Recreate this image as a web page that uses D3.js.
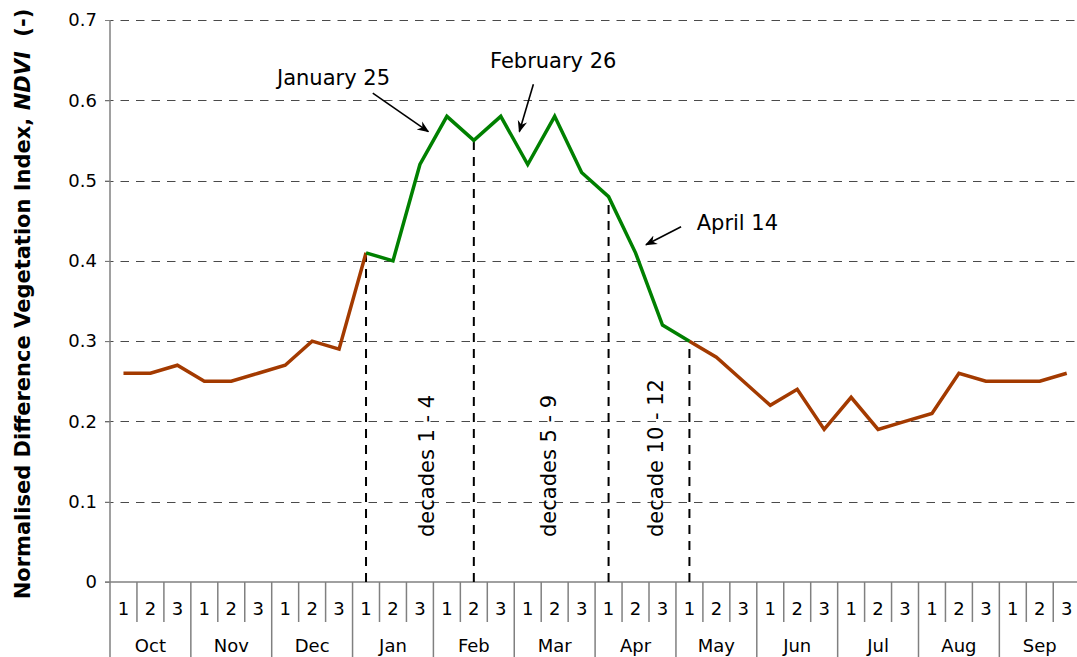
<!DOCTYPE html>
<html lang="en">
<head>
<meta charset="UTF-8">
<title>NDVI by decade</title>
<script src="https://d3js.org/d3.v7.min.js"></script>
<style>
  body { margin: 0; background: #fff; }
  text { font-family: "DejaVu Sans", Verdana, sans-serif; fill: #000; }
</style>
</head>
<body>
<script>
// data
const months = ["Oct", "Nov", "Dec", "Jan", "Feb", "Mar", "Apr", "May", "Jun", "Jul", "Aug", "Sep"];
const decadeLabels = ["1", "2", "3"];
const ndvi = [0.26, 0.26, 0.27, 0.25, 0.25, 0.26, 0.27, 0.30, 0.29,
              0.41, 0.40, 0.52, 0.58, 0.55, 0.58, 0.52, 0.58, 0.51,
              0.48, 0.41, 0.32, 0.30, 0.28, 0.25, 0.22, 0.24, 0.19,
              0.23, 0.19, 0.20, 0.21, 0.26, 0.25, 0.25, 0.25, 0.26];
const greenFrom = 9, greenTo = 21;          // season highlighted in green
const markerDecades = [9, 13, 18, 21];      // dashed drop lines
const periods = [
  { label: "decades 1 - 4", from: 9, to: 13 },
  { label: "decades 5 - 9", from: 13, to: 18 },
  { label: "decade 10 - 12", from: 18, to: 21 }
];
// annotation arrows in (decade position, ndvi) units
const notes = [
  { text: "January 25", anchor: "end", tx: 10.39, ty: 0.619, x1: 9.75, y1: 0.609, x2: 11.81, y2: 0.561 },
  { text: "February 26", anchor: "start", tx: 14.10, ty: 0.640, x1: 15.71, y1: 0.620, x2: 15.19, y2: 0.561 },
  { text: "April 14", anchor: "start", tx: 21.77, ty: 0.4385, x1: 21.19, y1: 0.4425, x2: 19.89, y2: 0.420 }
];
const yTicks = [0, 0.1, 0.2, 0.3, 0.4, 0.5, 0.6, 0.7];

const W = 1077, H = 657;
const mLeft = 110, mTop = 20, mBottom = 582;
const step = 26.95;

const svg = d3.select("body").append("svg")
  .attr("width", W).attr("height", H);

const xPos = d3.scaleLinear().domain([0, 36]).range([mLeft, mLeft + 36 * step]);
const x = d3.scaleBand().domain(d3.range(36)).range([mLeft, mLeft + 36 * step]);
const y = d3.scaleLinear().domain([0, 0.7]).range([mBottom, mTop]);
const cx = i => x(i) + x.bandwidth() / 2;

// gridlines
svg.append("g").selectAll("line")
  .data(yTicks.filter(d => d > 0))
  .enter().append("line")
  .attr("x1", mLeft - 5).attr("x2", W)
  .attr("y1", d => Math.round(y(d)) + 0.5).attr("y2", d => Math.round(y(d)) + 0.5)
  .attr("stroke", "#4a4a4a").attr("stroke-width", 1)
  .attr("stroke-dasharray", "8.5,7");

// y axis
const yAxis = d3.axisLeft(y).tickValues(yTicks).tickSize(5).tickPadding(8)
  .tickFormat(d => d === 0 ? "0" : d.toFixed(1));
const gy = svg.append("g").attr("transform", `translate(${mLeft},0)`).call(yAxis);
gy.select(".domain").remove();
gy.selectAll(".tick line").attr("stroke", "#808080");
gy.selectAll(".tick text").style("font-size", "18px").attr("font-family", null);

svg.append("line")
  .attr("x1", mLeft).attr("x2", mLeft).attr("y1", mTop).attr("y2", H)
  .attr("stroke", "#808080").attr("stroke-width", 1.5);

// x axis line
svg.append("line")
  .attr("x1", mLeft - 5).attr("x2", W).attr("y1", mBottom).attr("y2", mBottom)
  .attr("stroke", "#808080").attr("stroke-width", 1.5);

// decade separators and month separators
svg.append("g").selectAll("line")
  .data(d3.range(1, 37))
  .enter().append("line")
  .attr("x1", d => xPos(d)).attr("x2", d => xPos(d))
  .attr("y1", mBottom).attr("y2", d => d % 3 === 0 ? H : 622)
  .attr("stroke", "#808080").attr("stroke-width", 1.5);

svg.append("g").selectAll("text")
  .data(d3.range(36))
  .enter().append("text")
  .attr("x", d => cx(d)).attr("y", 615)
  .attr("text-anchor", "middle")
  .style("font-size", "18px")
  .text(d => decadeLabels[d % 3]);

svg.append("g").selectAll("text")
  .data(months)
  .enter().append("text")
  .attr("x", (d, i) => xPos(i * 3 + 1.5)).attr("y", 652)
  .attr("text-anchor", "middle")
  .style("font-size", "18px")
  .text(d => d);

// dashed drop lines
svg.append("g").selectAll("line")
  .data(markerDecades)
  .enter().append("line")
  .attr("x1", d => cx(d)).attr("x2", d => cx(d))
  .attr("y1", mBottom).attr("y2", d => y(ndvi[d]))
  .attr("stroke", "#000").attr("stroke-width", 2)
  .attr("stroke-dasharray", "9,7");

// period labels
svg.append("g").selectAll("text")
  .data(periods)
  .enter().append("text")
  .attr("transform", d => `translate(${(cx(d.from) + cx(d.to)) / 2 + 7},537) rotate(-90)`)
  .attr("dy", "0.35em")
  .style("font-size", "21px")
  .text(d => d.label);

// NDVI line
const line = d3.line().x(d => cx(d.i)).y(d => y(d.v));
const pts = ndvi.map((v, i) => ({ i, v }));
const brownA = pts.slice(0, greenFrom + 1);
const green = pts.slice(greenFrom, greenTo + 1);
const brownB = pts.slice(greenTo);
[[brownA, "#a33a00"], [brownB, "#a33a00"], [green, "#008000"]].forEach(([seg, col]) => {
  svg.append("path").datum(seg)
    .attr("d", line)
    .attr("fill", "none").attr("stroke", col)
    .attr("stroke-width", 3.5).attr("stroke-linejoin", "miter");
});

// arrows
svg.append("defs").append("marker")
  .attr("id", "arrow").attr("viewBox", "0 0 10 10")
  .attr("refX", 9).attr("refY", 5)
  .attr("markerWidth", 7.5).attr("markerHeight", 7.5)
  .attr("orient", "auto")
  .append("path").attr("d", "M0,1 L10,5 L0,9 L3,5 Z").attr("fill", "#000");

const gn = svg.append("g");
notes.forEach(n => {
  gn.append("line")
    .attr("x1", xPos(n.x1)).attr("y1", y(n.y1))
    .attr("x2", xPos(n.x2)).attr("y2", y(n.y2))
    .attr("stroke", "#000").attr("stroke-width", 1.6)
    .attr("marker-end", "url(#arrow)");
  gn.append("text")
    .attr("x", xPos(n.tx)).attr("y", y(n.ty))
    .attr("text-anchor", n.anchor)
    .style("font-size", "21px")
    .text(n.text);
});

// y axis title
const title = svg.append("text")
  .attr("transform", `translate(30,${(mTop + mBottom) / 2 + 3}) rotate(-90)`)
  .attr("text-anchor", "middle")
  .style("font-size", "21px").style("font-weight", "bold")
  .style("white-space", "pre");
title.append("tspan").text("Normalised Difference Vegetation Index, ");
title.append("tspan").style("font-style", "italic").text("NDVI");
title.append("tspan").text("  (-)");
</script>
</body>
</html>
